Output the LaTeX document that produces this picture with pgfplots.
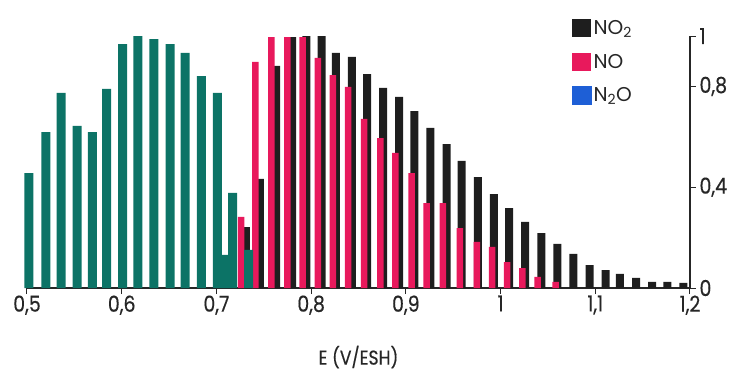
\documentclass[border=0pt]{standalone}
\usepackage{fontspec}
\setmainfont{Poppins}
\newfontfamily\cond{Poppins}[FakeStretch=0.86, FakeBold=0.4]
\usepackage{pgfplots}
\pgfplotsset{compat=1.18}
\definecolor{tealbar}{HTML}{0C7366}
\definecolor{redbar}{HTML}{E8195C}
\definecolor{blackbar}{HTML}{1E1E1E}
\definecolor{bluebar}{HTML}{1E5FD6}
\begin{document}
\begin{tikzpicture}[x=1pt,y=1pt]
\useasboundingbox (0,0) rectangle (734,376);
\begin{axis}[
  at={(27pt,88pt)}, anchor=south west,
  scale only axis, width=663pt, height=252pt,
  xmin=0.5, xmax=1.2, ymin=0, ymax=1,
  axis x line*=bottom, axis y line*=right,
  axis line style={line width=1.1pt, black!85},
  xtick={0.5,0.6,0.7,0.8,0.9,1,1.1,1.2},
  ytick={0,0.4,0.8,1},
  tick align=outside, major tick length=6pt,
  tick style={line width=1pt, black!85},
  /pgf/number format/use comma,
  /pgf/number format/assume math mode=true,
  ticklabel style={font=\cond\fontsize{22}{24}\selectfont, text=black!85},
  xticklabel style={yshift=2pt},
  xlabel={E (V/ESH)},
  xlabel style={at={(axis description cs:0.5,-0.274)}, anchor=center, font=\cond\fontsize{20}{22}\selectfont, text=black!85},
  clip=false,
  legend style={at={(axis description cs:0.822,1.071)}, anchor=north west, draw=none, fill=none,
    inner sep=0pt, row sep=14pt, font=\fontsize{20}{22}\selectfont, text=black!85},
  legend cell align=left,
]
\addplot[ybar, bar width=8pt, bar shift=0pt, fill=blackbar, draw=none,
  legend image code/.code={\fill[blackbar] (0pt,-9pt) rectangle (19pt,9pt);}]
coordinates {
(0.731,0.242) (0.746,0.433) (0.763,0.881) (0.780,0.996) (0.795,1.000)
(0.811,1.000) (0.826,0.933) (0.843,0.917) (0.859,0.849) (0.876,0.794)
(0.893,0.758) (0.909,0.702) (0.926,0.635) (0.943,0.571) (0.959,0.504)
(0.976,0.440) (0.993,0.373) (1.009,0.317) (1.026,0.262) (1.043,0.218)
(1.060,0.175) (1.077,0.135) (1.094,0.091) (1.111,0.071) (1.126,0.056)
(1.143,0.040) (1.160,0.024) (1.176,0.024) (1.193,0.020)
};
\addlegendentry{NO\textsubscript{2}}
\addplot[ybar, bar width=6.5pt, bar shift=0pt, fill=redbar, draw=none,
  legend image code/.code={\path (0pt,-9pt) rectangle (19pt,9pt); \fill[redbar] (2pt,-9pt) rectangle (10pt,9pt);}]
coordinates {
(0.726,0.282) (0.741,0.897) (0.758,0.996) (0.775,0.996) (0.791,0.996)
(0.807,0.913) (0.823,0.845) (0.839,0.798) (0.856,0.671) (0.873,0.595)
(0.889,0.536) (0.906,0.456) (0.922,0.337) (0.939,0.337) (0.957,0.238)
(0.975,0.183) (0.991,0.163) (1.007,0.103) (1.023,0.079) (1.039,0.044)
(1.058,0.024)
};
\addlegendentry{NO}
\addplot[ybar, bar width=9pt, bar shift=0pt, fill=tealbar, draw=none, forget plot]
coordinates {
(0.502,0.456) (0.520,0.619) (0.536,0.774) (0.553,0.643) (0.569,0.619)
(0.584,0.790) (0.601,0.968) (0.617,1.000) (0.634,0.988) (0.651,0.968)
(0.667,0.933) (0.684,0.841) (0.701,0.774) (0.708,0.131) (0.717,0.377)
(0.734,0.151)
};
\addlegendimage{legend image code/.code={\fill[bluebar] (0pt,-9pt) rectangle (19pt,9pt);}}
\addlegendentry{N\textsubscript{2}O}
\end{axis}
\end{tikzpicture}
\end{document}
